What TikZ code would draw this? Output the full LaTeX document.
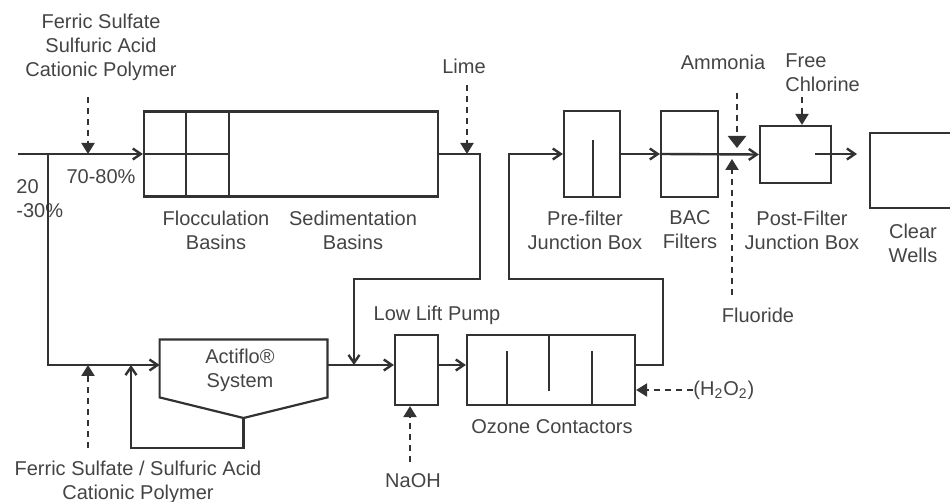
\documentclass[tikz,border=0pt]{standalone}
\usepackage{fontspec}
\setmainfont{Liberation Sans}
\usetikzlibrary{arrows.meta, positioning, calc}
\definecolor{pipe}{RGB}{50, 50, 50}
\definecolor{ink}{RGB}{68, 68, 68}

\begin{document}
\begin{tikzpicture}[
          x=0.5pt, y=-0.5pt,
          unit/.style={draw=pipe, line width=1.1pt, inner sep=0pt},
          wall/.style={draw=pipe, line width=1.1pt},
          lbl/.style={font=\fontsize{10}{12}\selectfont, text=ink, align=center, inner sep=0pt},
          flow/.style={draw=pipe, line width=1.2pt, -{Straight Barb[length=4pt, width=5.5pt]}},
          chem/.style={draw=pipe, line width=1.1pt, dash pattern=on 3pt off 2.5pt,
                       -{Triangle[length=5.5pt, width=6.5pt]}},
        ]
        \useasboundingbox (0,0) rectangle (950,502);

        \node[unit, minimum width=147pt, minimum height=42.5pt] (basin) at (291,154) {};
        \node[minimum width=83.5pt, minimum height=28.5pt, inner sep=0pt] (actiflo) at (243.5,368.5) {};
        \node[unit, minimum width=21.5pt, minimum height=35pt] (pump) at (416.5,370) {};
        \node[unit, minimum width=84pt, minimum height=35pt] (ozone) at (551,370) {};
        \node[unit, minimum width=28pt, minimum height=43pt] (prefilt) at (592,154) {};
        \node[unit, minimum width=28.5pt, minimum height=43pt] (bac) at (689.5,154) {};
        \node[unit, minimum width=35.5pt, minimum height=28.5pt] (postfilt) at (795.5,154.5) {};
        \node[unit, minimum width=50pt, minimum height=37.5pt, anchor=north west] (clear) at (869,132) {};

        \coordinate (apex) at (243.5,418);
        \draw[wall] (actiflo.north west) -- (actiflo.north east) -- (actiflo.south east)
          -- (apex) -- (actiflo.south west) -- cycle;

        \draw[wall] ($(basin.north west)+(43,0)$) -- ($(basin.south west)+(43,0)$);
        \draw[wall] ($(basin.north west)+(86,0)$) -- ($(basin.south west)+(86,0)$);
        \draw[wall] (basin.west) -- ($(basin.west)+(86,0)$);
        \draw[wall] ($(prefilt.south)+(1,0)$) -- ($(prefilt.south)+(1,-58)$);
        \draw[wall] ($(ozone.south west)+(41,0)$) -- ($(ozone.south west)+(41,-55)$);
        \draw[wall] ($(ozone.north west)+(83,0)$) -- ($(ozone.north west)+(83,57)$);
        \draw[wall] ($(ozone.south west)+(126,0)$) -- ($(ozone.south west)+(126,-55)$);

        \node[lbl] (topchem) at (101,47) {Ferric Sulfate\\Sulfuric Acid\\Cationic Polymer};
        \node[lbl] (main) at (101,177) {70-80\%};
        \node[lbl, align=left, anchor=west] (side) at (16,199) {20\\-30\%};
        \node[lbl] (flocc) at (216,230) {Flocculation\\Basins};
        \node[lbl] (sedim) at (353,230) {Sedimentation\\Basins};
        \node[lbl] (lime) at (464,66) {Lime};
        \node[lbl] (actlbl) at (240,370) {Actiflo\textregistered\\System};
        \node[lbl] (botchem) at (138,482) {Ferric Sulfate / Sulfuric Acid\\Cationic Polymer};
        \node[lbl] (pumplbl) at (437,315) {Low Lift Pump};
        \node[lbl] (naoh) at (413,481) {NaOH};
        \node[lbl] (ozlbl) at (552,427) {Ozone Contactors};
        \node[lbl, anchor=west] (h2o2) at (693,390) {(H\textsubscript{2}O\textsubscript{2})};
        \node[lbl] (prelbl) at (585,230) {Pre-filter\\Junction Box};
        \node[lbl] (baclbl) at (690,230) {BAC\\Filters};
        \node[lbl] (postlbl) at (802,230) {Post-Filter\\Junction Box};
        \node[lbl] (clearlbl) at (913,243) {Clear\\Wells};
        \node[lbl] (ammonia) at (723,62) {Ammonia};
        \node[lbl, align=left, anchor=west] (chlor) at (785,73) {Free\\Chlorine};
        \node[lbl] (fluor) at (758,315) {Fluoride};

        \coordinate (inlet) at (18,154);
        \coordinate (split) at (48,154);
        \coordinate (lowrow) at (0,365);
        \coordinate (bypass) at (480,279);
        \coordinate (merge) at (354,365);
        \coordinate (recyc) at (131,448);
        \coordinate (ozrise) at (663,279);
        \coordinate (ozdrop) at (509,279);
        \coordinate (pfout) at (815,154);
        \coordinate (cwin) at (857,154);

        \draw[flow] (inlet) -- (basin.west);
        \draw[flow] (split) |- (actiflo.west |- lowrow);
        \draw[flow] (basin.east) -| (bypass) -| (merge);
        \draw[flow] (actiflo.east |- lowrow) -- (pump.west |- lowrow);
        \draw[flow] (pump.east |- lowrow) -- (ozone.west |- lowrow);
        \draw[flow] (apex) |- (recyc) -- (recyc |- lowrow);
        \draw[flow] (ozone.east |- lowrow) -| (ozrise) -- (ozdrop) |- (prefilt.west);
        \draw[flow] (prefilt.east) -- (bac.west);
        \draw[flow] (bac.west) -- (postfilt.west);
        \draw[flow] (pfout) -- (cwin);

        \coordinate (c1) at (88,97);
        \coordinate (c2) at (467,85);
        \coordinate (c3) at (88,448);
        \coordinate (c4) at (410,462);
        \coordinate (c5) at (737,93);
        \coordinate (c6) at (732,295);
        \coordinate (c7) at (802,97);

        \draw[chem] (c1) -- (c1 |- inlet);
        \draw[chem] (c2) -- (c2 |- inlet);
        \draw[chem] (c3) -- (c3 |- lowrow);
        \draw[chem] (c4) -- (c4 |- pump.south);
        \draw[chem] (h2o2.west) -- (h2o2.west -| ozone.east);
        \draw[chem, -{Triangle[length=6pt, width=9pt]}] (c5) -- ($(c5 |- bac.east)+(0,-6)$);
        \draw[chem] (c6) -- ($(c6 |- bac.east)+(0,5)$);
        \draw[chem] (c7) -- (c7 |- postfilt.north);
      \end{tikzpicture}
\end{document}
